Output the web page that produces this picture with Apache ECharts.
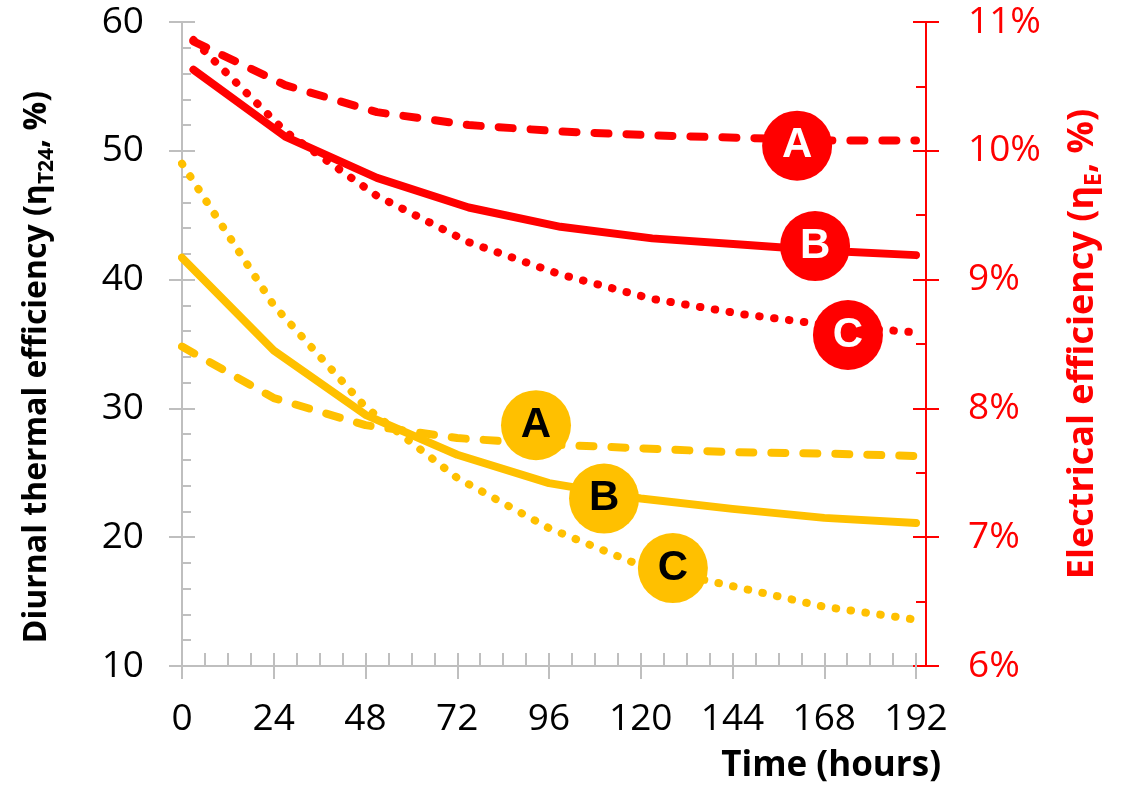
<!DOCTYPE html>
<html>
<head>
<meta charset="utf-8">
<script src="https://cdn.jsdelivr.net/npm/echarts@6/dist/echarts.min.js"></script>
<style>
html,body{margin:0;padding:0;background:#fff;}
#chart{width:1122px;height:791px;}
</style>
</head>
<body>
<div id="chart"></div>
<script>
// ---- data ----
const hoursThermal = [0, 24, 48, 72, 96, 120, 144, 168, 192];
const hoursElectric = [3, 27, 51, 75, 99, 123, 147, 171, 192];
const thermalA = [34.8, 30.8, 28.7, 27.7, 27.2, 26.9, 26.6, 26.5, 26.3];
const thermalB = [41.7, 34.5, 29.5, 26.4, 24.2, 23.0, 22.2, 21.5, 21.1];
const thermalC = [49.0, 38.0, 30.1, 24.6, 20.7, 17.8, 16.2, 14.6, 13.6];
const electricA = [10.85, 10.51, 10.30, 10.20, 10.15, 10.12, 10.10, 10.08, 10.08];
const electricB = [10.63, 10.11, 9.79, 9.56, 9.41, 9.32, 9.27, 9.22, 9.19];
const electricC = [10.86, 10.15, 9.65, 9.29, 9.04, 8.85, 8.73, 8.64, 8.59];
const xTicks = [0, 24, 48, 72, 96, 120, 144, 168, 192];
const leftTicks = [10, 20, 30, 40, 50, 60];
const rightTicks = [6, 7, 8, 9, 10, 11];
const letters = ['A', 'B', 'C'];
// label anchor points (hours, value)
const thermalLabelAt = [[92.6, 28.7], [110.4, 23.0], [128.4, 17.6]];
const electricLabelAt = [[160.9, 10.04], [165.6, 9.26], [174.2, 8.57]];

const RED = '#FF0000';
const GOLD = '#FFC000';
const GREY = '#BFBFBF';
const tickFont = 'Open Sans';

function pairs(xs, ys) { return xs.map((x, i) => [x, ys[i]]); }

const dashed = [14, 18];
const dotted = [0.5, 14.5];

function lineSeries(name, xs, ys, color, type, yIdx, width) {
  return {
    name: name, type: 'line', xAxisIndex: 0, yAxisIndex: yIdx,
    data: pairs(xs, ys), showSymbol: false, symbol: 'none', smooth: false,
    lineStyle: { color: color, width: width, type: type, cap: 'round', join: 'round' },
    z: 3, silent: true
  };
}

function labelSeries(points, yIdx, color, textColor) {
  return {
    type: 'scatter', xAxisIndex: 0, yAxisIndex: yIdx,
    data: points.map((p, i) => ({ value: p, name: letters[i] })),
    symbol: 'circle', symbolSize: 70,
    itemStyle: { color: color, opacity: 1 },
    label: {
      show: true, position: 'inside', formatter: '{b}',
      color: textColor, fontFamily: 'Liberation Sans', fontWeight: 'bold', fontSize: 42
    },
    z: 10, silent: true
  };
}

const xMin = xTicks[0], xMax = xTicks[xTicks.length - 1];
const xInt = xTicks[1] - xTicks[0];
const lMin = leftTicks[0], lMax = leftTicks[leftTicks.length - 1], lInt = leftTicks[1] - leftTicks[0];
const rMin = rightTicks[0], rMax = rightTicks[rightTicks.length - 1], rInt = rightTicks[1] - rightTicks[0];

const chart = echarts.init(document.getElementById('chart'), null, { renderer: 'canvas' });
chart.setOption({
  animation: false,
  backgroundColor: '#fff',
  grid: { left: 182, right: 206, top: 22, bottom: 125, containLabel: false, outerBoundsMode: 'none' },
  xAxis: [
    {
      type: 'value', min: xMin, max: xMax, interval: xInt, position: 'bottom',
      axisLine: { show: true, onZero: false, lineStyle: { color: GREY, width: 2 } },
      axisTick: { show: true, inside: false, length: 13, lineStyle: { color: GREY, width: 2 } },
      minorTick: { show: false },
      splitLine: { show: false },
      axisLabel: { color: '#000', fontSize: 37, fontFamily: tickFont, margin: 35 }
    },
    {
      type: 'value', min: xMin, max: xMax, interval: xInt, position: 'bottom',
      axisLine: { show: false, onZero: false },
      axisTick: { show: true, inside: true, length: 13, lineStyle: { color: GREY, width: 2 } },
      minorTick: { show: true, splitNumber: 4, length: 13, lineStyle: { color: GREY, width: 2 } },
      splitLine: { show: false },
      axisLabel: { show: false }
    }
  ],
  yAxis: [
    {
      type: 'value', min: lMin, max: lMax, interval: lInt, position: 'left',
      axisLine: { show: true, onZero: false, lineStyle: { color: GREY, width: 2 } },
      axisTick: { show: true, inside: false, length: 13, lineStyle: { color: GREY, width: 2 } },
      splitLine: { show: false },
      axisLabel: { color: '#000', fontSize: 37, fontFamily: tickFont, margin: 38 },
      name: '{m|Diurnal thermal efficiency (η}{s|T24}{m|, %)}',
      nameLocation: 'middle', nameRotate: 90, nameGap: 124,
      nameTextStyle: {
        padding: [0, 46, 0, 0],
        rich: {
          m: { fontFamily: tickFont, fontWeight: 'bold', fontSize: 32, color: '#000', lineHeight: 42 },
          s: { fontFamily: tickFont, fontWeight: 'bold', fontSize: 21, color: '#000', lineHeight: 21, verticalAlign: 'bottom' }
        }
      }
    },
    {
      type: 'value', min: rMin, max: rMax, interval: rInt, position: 'right', offset: 10,
      axisLine: { show: true, onZero: false, lineStyle: { color: RED, width: 2 } },
      axisTick: { show: true, inside: false, length: 13, lineStyle: { color: RED, width: 2 } },
      splitLine: { show: false },
      axisLabel: { color: RED, fontSize: 37, fontFamily: tickFont, margin: 42, formatter: '{value}%' },
      name: '{m|Electrical efficiency (η}{s|E}{m|, %)}',
      nameLocation: 'middle', nameRotate: 90, nameGap: 134,
      nameTextStyle: {
        rich: {
          m: { fontFamily: tickFont, fontWeight: 'bold', fontSize: 36, color: RED, lineHeight: 46 },
          s: { fontFamily: tickFont, fontWeight: 'bold', fontSize: 23, color: RED, lineHeight: 23, verticalAlign: 'bottom' }
        }
      }
    },
    {
      type: 'value', min: lMin, max: lMax, interval: lInt, position: 'left',
      axisLine: { show: false, onZero: false },
      axisTick: { show: true, inside: true, length: 13, lineStyle: { color: GREY, width: 2 } },
      minorTick: { show: true, splitNumber: 5, length: 9, lineStyle: { color: GREY, width: 2 } },
      splitLine: { show: false },
      axisLabel: { show: false }
    },
    {
      type: 'value', min: rMin, max: rMax, interval: rInt, position: 'right', offset: 10,
      axisLine: { show: false, onZero: false },
      axisTick: { show: true, inside: true, length: 13, lineStyle: { color: RED, width: 2 } },
      minorTick: { show: true, splitNumber: 2, length: 10, lineStyle: { color: RED, width: 2 } },
      splitLine: { show: false },
      axisLabel: { show: false }
    }
  ],
  graphic: [
    {
      type: 'text', right: 181, top: 749,
      style: { text: 'Time (hours)', fill: '#000', font: 'bold 35px "Open Sans"' }
    }
  ],
  series: [
    lineSeries('Thermal A', hoursThermal, thermalA, GOLD, dashed, 0, 8),
    lineSeries('Thermal B', hoursThermal, thermalB, GOLD, 'solid', 0, 8),
    lineSeries('Thermal C', hoursThermal, thermalC, GOLD, dotted, 0, 8),
    lineSeries('Electric A', hoursElectric, electricA, RED, dashed, 1, 8),
    lineSeries('Electric B', hoursElectric, electricB, RED, 'solid', 1, 8),
    lineSeries('Electric C', hoursElectric, electricC, RED, dotted, 1, 8),
    labelSeries(thermalLabelAt, 0, GOLD, '#000'),
    labelSeries(electricLabelAt, 1, RED, '#fff')
  ]
});
</script>
</body>
</html>
